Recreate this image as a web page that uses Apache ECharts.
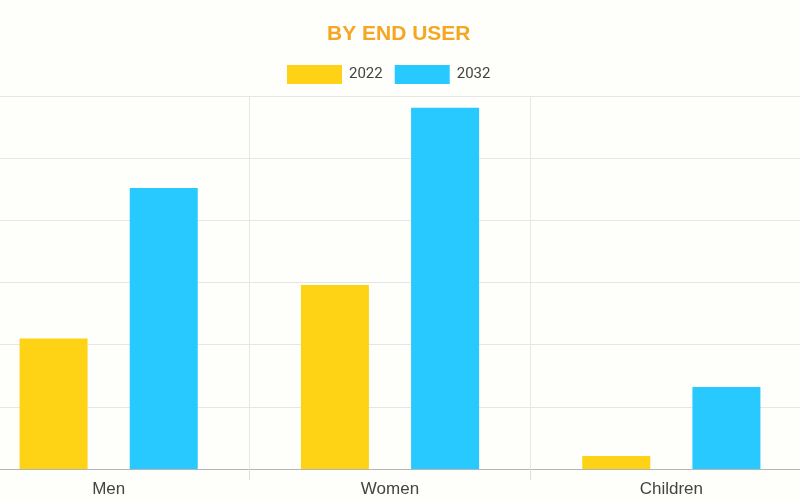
<!DOCTYPE html>
<html>
<head>
<meta charset="utf-8">
<script src="https://cdn.jsdelivr.net/npm/echarts@6/dist/echarts.min.js"></script>
<style>
html,body{margin:0;padding:0;background:#fefefb;}
#chart{width:800px;height:500px;}
</style>
</head>
<body>
<div id="chart"></div>
<script>
const categories = ['Men', 'Women', 'Children'];
const seriesNames = ['2022', '2032'];
const values2022 = [2.10, 2.96, 0.21];
const values2032 = [4.52, 5.81, 1.32];

const chart = echarts.init(document.getElementById('chart'));
chart.setOption({
  backgroundColor: '#fefefb',
  animation: false,
  title: {
    text: 'BY END USER',
    left: 322,
    top: 19,
    textStyle: { color: '#f5a623', fontSize: 21, fontWeight: 'bold', fontFamily: 'Liberation Sans, Arial, sans-serif' }
  },
  legend: {
    top: 65,
    left: 287,
    padding: 0,
    itemWidth: 55,
    itemHeight: 19,
    itemGap: 12,
    icon: 'rect',
    textStyle: { color: '#444', fontSize: 15, fontFamily: 'Roboto, Liberation Sans, Arial, sans-serif', padding: [0, 0, 0, 2] },
    data: seriesNames
  },
  grid: { left: -32, right: -12, top: 96, bottom: 31, containLabel: false, outerBoundsMode: 'none' },
  xAxis: {
    type: 'category',
    data: categories,
    axisLine: { lineStyle: { color: '#b5b5b5', width: 1 } },
    axisTick: { show: true, length: 11, lineStyle: { color: '#dddddd' } },
    splitLine: { show: true, lineStyle: { color: '#e6e6e6' } },
    axisLabel: { color: '#444', fontSize: 17, margin: 12, fontFamily: 'Liberation Sans, Arial, sans-serif' }
  },
  yAxis: {
    type: 'value',
    min: 0,
    max: 6,
    interval: 1,
    axisLabel: { show: false },
    axisLine: { show: false },
    axisTick: { show: false },
    splitLine: { lineStyle: { color: '#e6e6e6' } }
  },
  series: [
    { name: seriesNames[0], type: 'bar', data: values2022, barWidth: 68, barGap: '62%', itemStyle: { color: '#fed316' } },
    { name: seriesNames[1], type: 'bar', data: values2032, barWidth: 68, barGap: '62%', itemStyle: { color: '#27c9fe' } }
  ]
});
</script>
</body>
</html>
